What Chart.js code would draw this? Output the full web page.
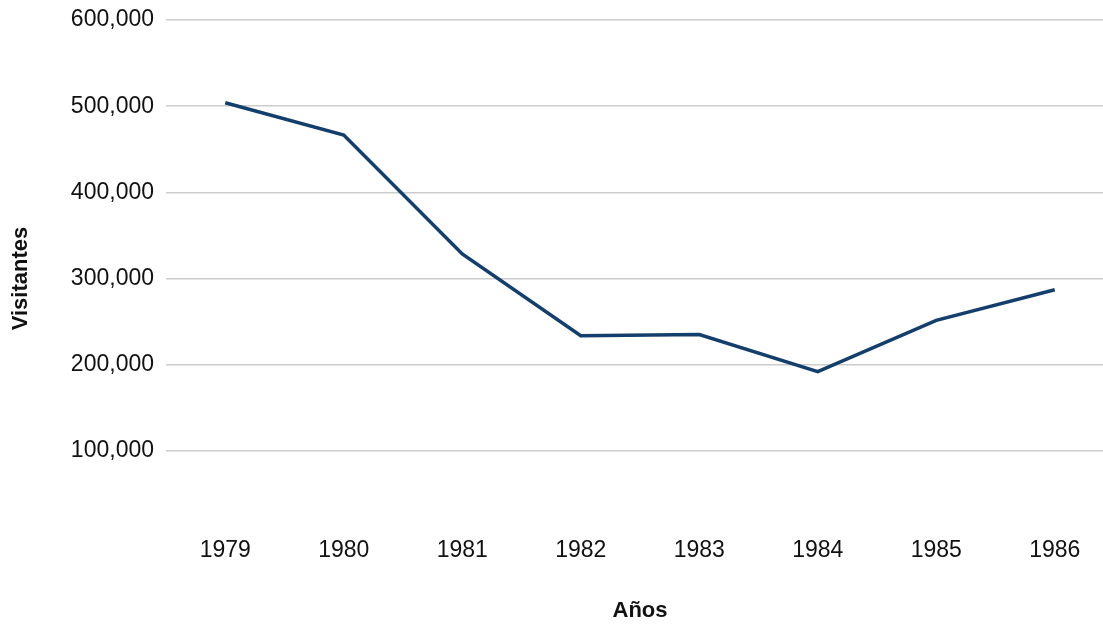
<!DOCTYPE html>
<html lang="es">
<head>
<meta charset="UTF-8">
<title>Visitantes por año</title>
<style>
    html, body { margin: 0; padding: 0; background: #fff; overflow: hidden; }
    .wrap { width: 1114px; height: 624px; position: relative; }
</style>
</head>
<body>
<div class="wrap"><canvas id="chart"></canvas></div>
<script src="https://cdn.jsdelivr.net/npm/chart.js"></script>
<script>
    const years = ['1979', '1980', '1981', '1982', '1983', '1984', '1985', '1986'];
    const visitors = [504000, 466500, 328500, 233500, 235000, 192000, 251500, 287000];
    const yTicks = [0, 100000, 200000, 300000, 400000, 500000, 600000];

    const font = "'Liberation Sans', Arial, sans-serif";

    new Chart(document.getElementById('chart'), {
        type: 'line',
        data: {
            labels: years,
            datasets: [{
                label: 'Visitantes',
                data: visitors,
                borderColor: '#143f6c',
                borderWidth: 3.5,
                pointRadius: 0,
                tension: 0,
                fill: false
            }]
        },
        options: {
            responsive: true,
            maintainAspectRatio: false,
            animation: false,
            layout: { padding: { top: 20, right: 0, bottom: 0, left: 0 } },
            plugins: { legend: { display: false }, tooltip: { enabled: false } },
            scales: {
                x: {
                    offset: true,
                    grid: { display: false, drawTicks: false },
                    border: { display: false },
                    ticks: { color: '#111', padding: 0, maxRotation: 0, font: { family: font, size: 23 } },
                    title: { display: true, text: 'Años', color: '#111', padding: { top: 0, bottom: 0 },
                             font: { family: font, size: 22, weight: 'bold' } },
                    afterFit: s => { s.height = 87; s.paddingLeft = 0; s.paddingRight = 0; }
                },
                y: {
                    min: 0,
                    max: 600000,
                    afterBuildTicks: s => { s.ticks = yTicks.map(v => ({ value: v })); },
                    grid: {
                        drawTicks: false,
                        lineWidth: 1.5,
                        color: c => c.tick && c.tick.value === 0 ? 'rgba(0,0,0,0)' : '#cccccc'
                    },
                    border: { display: false },
                    ticks: {
                        color: '#111',
                        padding: 12,
                        font: { family: font, size: 23 },
                        callback: v => v === 0 ? '' : v.toLocaleString('en-US')
                    },
                    title: { display: true, text: 'Visitantes', color: '#111', padding: { top: 8, bottom: 0 },
                             font: { family: font, size: 22, weight: 'bold' } },
                    afterFit: s => { s.width = 166; s.paddingTop = 0; s.paddingBottom = 0; }
                }
            }
        }
    });
</script>
</body>
</html>
